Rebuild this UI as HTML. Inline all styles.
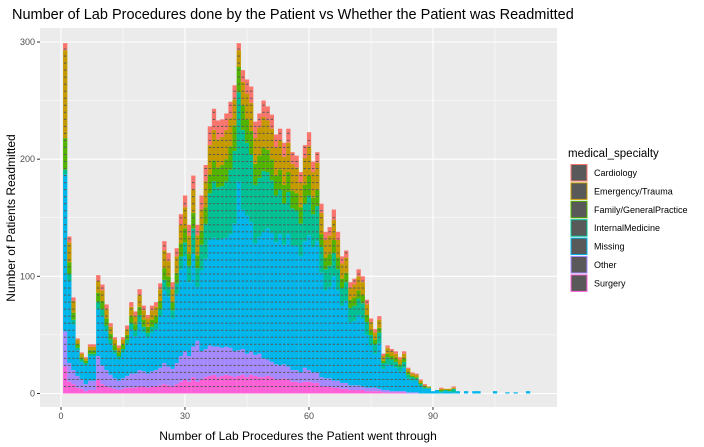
<!DOCTYPE html>
<html><head><meta charset="utf-8"><style>
body{margin:0;background:#fff;}
svg{display:block;font-family:"Liberation Sans",sans-serif;}
</style></head><body>
<svg id="chart" width="704" height="447">
<text x="12" y="19" font-size="14.5" fill="#000">Number of Lab Procedures done by the Patient vs Whether the Patient was Readmitted</text>
<rect x="40" y="28" width="517" height="379" fill="#ebebeb"/>
<g id="grid"></g>
<g id="bars"></g>
<g id="axes"></g>
<text x="298" y="440" font-size="12" text-anchor="middle">Number of Lab Procedures the Patient went through</text>
<text transform="translate(15,218) rotate(-90)" font-size="12" text-anchor="middle">Number of Patients Readmitted</text>
<g id="legend"></g>
</svg>
<script>
const totals=[299,134,82,47,35,31,42,42,101,93,76,60,48,41,48,58,78,70,89,75,67,75,78,94,130,120,95,124,153,169,144,186,144,169,195,228,243,233,234,239,249,263,299,276,268,262,232,239,250,245,238,221,226,214,226,206,203,189,212,223,198,206,162,138,142,157,138,117,122,95,98,106,100,80,64,55,66,34,41,38,36,31,36,22,18,17,12,8,6,2,3,5,4,4,6,2,0,2,0,2,2,0,0,0,2,0,0,1,0,1,0,0,2];
const cardiology=[6,5,3,1,1,1,2,2,5,5,4,3,2,2,2,3,4,4,5,4,3,4,4,5,8,7,6,7,9,10,9,12,9,12,14,16,18,16,15,14,14,12,6,10,12,14,14,12,14,12,12,11,10,12,12,10,10,9,11,12,9,9,8,7,7,9,7,6,6,5,5,6,5,4,3,3,3,2,2,2,2,2,2,1,1,1,1,1,0,0,0,1,0,0,1,0,0,0,0,0,0];
const emergency=[75,17,10,4,3,2,3,3,10,9,8,6,5,4,4,5,8,7,10,8,7,8,8,10,15,13,11,14,16,18,16,20,17,18,22,25,26,24,24,25,24,22,14,20,22,24,22,24,26,25,26,24,25,24,25,23,22,21,23,25,22,23,18,15,16,17,15,13,13,10,11,12,11,9,7,6,7,4,5,4,4,4,4,3,2,2,2,1,1,0,0,1,1,1,1,0,0,0,0,0,0];
const family=[27,10,6,3,2,2,3,3,8,7,6,5,4,3,4,4,6,5,7,6,5,6,6,7,10,9,7,9,11,12,10,13,11,12,14,16,18,17,18,19,20,22,22,21,20,20,18,19,20,19,18,17,17,16,17,15,15,14,16,17,14,14,11,10,10,11,10,8,8,7,7,7,7,6,4,4,4,2,3,3,3,2,3,2,1,1,1,1,0,0,0,1,0,1,0,0,0,0,0,0,0];
const internal=[4,6,4,2,2,2,2,2,6,6,5,4,3,3,3,4,5,5,6,5,4,5,5,6,9,8,7,9,11,12,14,22,16,22,30,40,48,45,45,48,55,62,76,68,62,58,50,50,52,48,45,40,38,35,36,32,30,28,32,34,28,30,22,18,18,20,18,15,16,12,13,14,13,11,9,8,9,5,6,5,5,4,5,3,3,2,2,1,1,0,0,1,1,0,3,0,0,0,0,0,0];
const other=[30,16,12,10,8,6,8,8,20,16,14,11,9,8,9,10,12,12,14,13,12,13,14,15,18,16,15,18,22,24,22,26,35,24,24,26,24,26,24,24,24,22,22,22,20,20,18,20,16,14,13,13,12,12,11,10,10,9,12,10,9,9,8,7,7,6,6,5,5,4,4,4,3,3,3,3,2,2,2,1,1,1,1,1,1,1,0,0,0,0,0,0,0,0,0,0,0,0,0,0,0];
const surgery=[23,10,8,5,4,2,3,3,12,8,6,5,4,3,4,5,5,5,6,6,5,6,6,7,8,7,6,8,10,12,10,14,10,12,14,15,16,14,15,16,15,14,15,16,14,16,15,14,14,15,14,12,12,13,12,10,10,9,10,10,9,9,6,6,6,5,5,4,4,3,3,3,3,2,2,2,2,1,1,1,1,1,1,0,0,0,0,0,0,0,0,0,0,0,0,0,0,0,0,0,0];
const xTicks=[0,30,60,90];
const yTicks=[0,100,200,300];
const specialties=["Cardiology","Emergency/Trauma","Family/GeneralPractice","InternalMedicine","Missing","Other","Surgery"];
const colors=["#F8766D","#C49A00","#53B400","#00C094","#00B6EB","#A58AFF","#FB61D7"];

const NS="http://www.w3.org/2000/svg";
const X0=40,X1=557,Y0=28,Y1=407;
function xs(v){return 61+v*4.133;}
function ys(v){return 393.5-v*1.1717;}
function mk(tag,attrs,parent){const e=document.createElementNS(NS,tag);for(const k in attrs)e.setAttribute(k,attrs[k]);parent.appendChild(e);return e;}
const grid=document.getElementById('grid'),bars=document.getElementById('bars'),axes=document.getElementById('axes');
for(let i=0;i<xTicks.length;i++){const v=xTicks[i]+15;const l=mk('line',{x1:xs(v),x2:xs(v),y1:Y0,y2:Y1,stroke:'#fff','stroke-width':0.5},grid);
}
for(let i=0;i<yTicks.length-1;i++){const v=yTicks[i]+50;const l=mk('line',{x1:X0,x2:X1,y1:ys(v),y2:ys(v),stroke:'#fff','stroke-width':0.5},grid);
}
xTicks.forEach(v=>{const l=mk('line',{x1:xs(v),x2:xs(v),y1:Y0,y2:Y1,stroke:'#fff','stroke-width':1.1},grid);

const t=mk('line',{x1:xs(v),x2:xs(v),y1:Y1,y2:Y1+3,stroke:'#333','stroke-width':1},axes);

const tx=mk('text',{x:xs(v),y:Y1+12,'font-size':9,'text-anchor':'middle',fill:'#4d4d4d'},axes);tx.textContent=v;
});
yTicks.forEach(v=>{const l=mk('line',{x1:X0,x2:X1,y1:ys(v),y2:ys(v),stroke:'#fff','stroke-width':1.1},grid);

const t=mk('line',{x1:X0-3,x2:X0,y1:ys(v),y2:ys(v),stroke:'#333','stroke-width':1},axes);

const tx=mk('text',{x:X0-5,y:ys(v)+3,'font-size':9,'text-anchor':'end',fill:'#4d4d4d'},axes);tx.textContent=v;
});
const series=[cardiology,emergency,family,internal,null,other,surgery];
const bw=4.133;
for(let i=0;i<totals.length;i++){
  const x=i+1,tot=totals[i];if(tot<=0)continue;
  const vals=series.map(s=>s?(s[i]||0):0);
  const known=vals.reduce((a,b)=>a+b,0);
  vals[4]=Math.max(0,tot-known);
  let base=0;
  for(let k=6;k>=0;k--){const v=vals[k];if(v<=0)continue;
    const r=mk('rect',{x:xs(x)-bw/2,width:bw+0.15,y:ys(base+v),height:ys(base)-ys(base+v),fill:colors[k]},bars);
    
    base+=v;}
  for(let d=6;d<tot-1;d+=6){const l=mk('line',{x1:xs(x)-1.2,x2:xs(x)+1.2,y1:ys(d),y2:ys(d),stroke:'#5a5a5a','stroke-width':1},bars);
    }
}
const lg=document.getElementById('legend');
const lt=mk('text',{x:568,y:157,'font-size':11.5},lg);lt.textContent='medical_specialty';

specialties.forEach((s,i)=>{const y=164.5+i*18.4;
  const r=mk('rect',{x:571,y:y,width:16,height:16.5,fill:'#595959',stroke:colors[i],'stroke-width':1},lg);
  
  const t=mk('text',{x:594,y:y+11.5,'font-size':9},lg);t.textContent=s;
  });
</script>
</body></html>
